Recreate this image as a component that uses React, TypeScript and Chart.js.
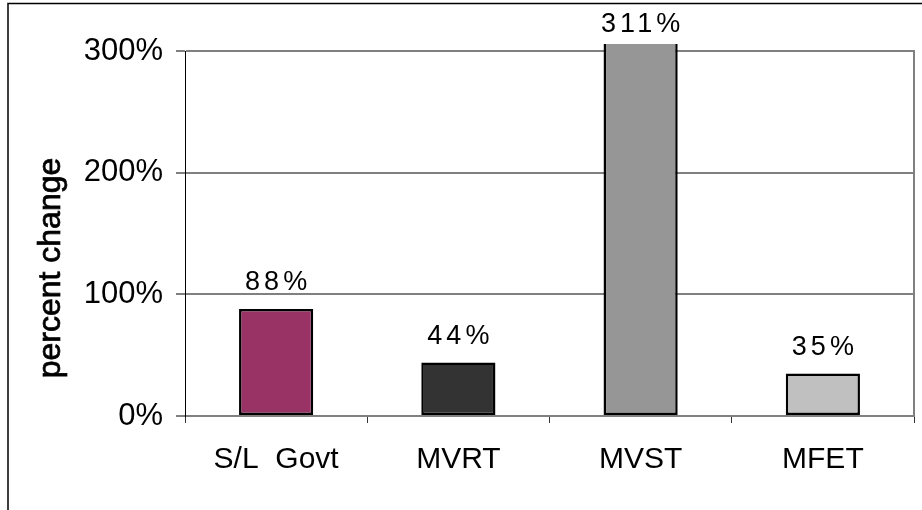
import React, { useEffect, useRef } from "react";
import { Chart, registerables } from "chart.js";

Chart.register(...registerables);

const categories = ["S/L  Govt", "MVRT", "MVST", "MFET"];
const values = [88, 44, 311, 35];
const barColors = ["#993366", "#333333", "#969696", "#C0C0C0"];
const yTicks = [0, 100, 200, 300];
const yTitle = "percent change";

const FONT = "'Liberation Sans', Arial, Helvetica, sans-serif";

const decorPlugin = {
  id: "decor",
  beforeDraw(chart: any) {
    const { ctx } = chart;
    ctx.save();
    ctx.strokeStyle = "#000";
    ctx.lineWidth = 1.5;
    ctx.beginPath();
    ctx.moveTo(8, 510);
    ctx.lineTo(8, 3.5);
    ctx.lineTo(922, 3.5);
    ctx.stroke();
    ctx.restore();
  },
  afterDraw(chart: any) {
    const { ctx, chartArea } = chart;
    ctx.save();
    ctx.strokeStyle = "#808080";
    ctx.lineWidth = 2;
    ctx.beginPath();
    ctx.moveTo(chartArea.right, chartArea.top - 1);
    ctx.lineTo(chartArea.right, chartArea.bottom + 1);
    ctx.stroke();
    ctx.fillStyle = "#000";
    ctx.strokeStyle = "#000";
    ctx.lineWidth = 0.7;
    ctx.font = `32px ${FONT}`;
    ctx.textAlign = "center";
    ctx.textBaseline = "middle";
    ctx.translate(51, 268);
    ctx.rotate(-Math.PI / 2);
    ctx.fillText(yTitle, 0, 0);
    ctx.strokeText(yTitle, 0, 0);
    ctx.restore();
  },
  afterDatasetsDraw(chart: any) {
    const { ctx, chartArea } = chart;
    const meta = chart.getDatasetMeta(0);
    ctx.save();
    ctx.fillStyle = "#000";
    ctx.font = `27px ${FONT}`;
    ctx.textAlign = "center";
    ctx.textBaseline = "middle";
    (ctx as any).letterSpacing = "4px";
    meta.data.forEach((bar: any, i: number) => {
      const top = Math.max(bar.y, chartArea.top);
      ctx.fillText(values[i] + "%", bar.x + 2, top - 26);
    });
    ctx.restore();
  },
};

export default function App() {
  const ref = useRef<HTMLCanvasElement | null>(null);
  useEffect(() => {
    if (!ref.current) return;
    const chart = new Chart(ref.current, {
      type: "bar",
      data: {
        labels: categories,
        datasets: [
          {
            data: values,
            backgroundColor: barColors,
            borderColor: "#000",
            borderWidth: 2.5,
            borderSkipped: false,
            barPercentage: 0.407,
            categoryPercentage: 1,
            clip: { left: 0, top: 7, right: 0, bottom: 0 } as any,
          },
        ],
      },
      options: {
        animation: false,
        responsive: false,
        devicePixelRatio: 1,
        layout: { padding: { top: 51, right: 8, left: 0, bottom: 0 } },
        plugins: {
          legend: { display: false },
          tooltip: { enabled: false },
        },
        scales: {
          x: {
            afterFit: (s: any) => {
              s.height = 94;
            },
            grid: {
              drawOnChartArea: false,
              offset: true,
              tickLength: 7,
              tickColor: "#333",
              tickWidth: 1,
            },
            border: { color: "#808080", width: 2 },
            ticks: {
              color: "#000",
              font: { family: FONT, size: 30 },
              padding: 19,
              maxRotation: 0,
            },
          },
          y: {
            min: 0,
            max: 300,
            afterFit: (s: any) => {
              s.width = 185;
            },
            afterBuildTicks: (s: any) => {
              s.ticks = yTicks.map((v) => ({ value: v }));
            },
            grid: {
              color: "#808080",
              lineWidth: 2,
              tickLength: 9,
              tickColor: "#000",
              tickWidth: 1,
            },
            border: { color: "#000", width: 1 },
            ticks: {
              color: "#000",
              font: { family: FONT, size: 31 },
              padding: 13,
              callback: (v: any) => v + "%",
            },
          },
        },
      },
      plugins: [decorPlugin],
    });
    return () => chart.destroy();
  }, []);
  return (
    <div style={{ position: "fixed", left: 0, top: 0, width: 922, height: 510, background: "#fff" }}>
      <canvas ref={ref} width={922} height={510} style={{ width: 922, height: 510, display: "block" }} />
    </div>
  );
}
